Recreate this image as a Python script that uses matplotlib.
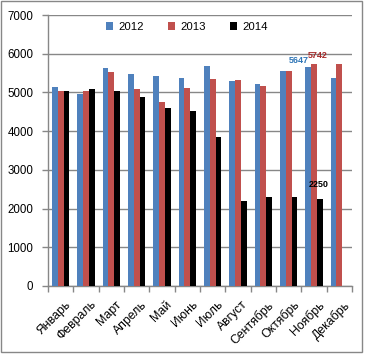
import numpy as np
import matplotlib
matplotlib.use('Agg')
import matplotlib.pyplot as plt
import matplotlib.transforms as mtransforms
from matplotlib.patches import Rectangle

plt.rcParams['font.family'] = ['Liberation Sans', 'DejaVu Sans']

months = ['Январь', 'Февраль', 'Март', 'Апрель', 'Май', 'Июнь',
          'Июль', 'Август', 'Сентябрь', 'Октябрь', 'Ноябрь', 'Декабрь']
years = ['2012', '2013', '2014']
v2012 = [5135, 4965, 5630, 5475, 5425, 5365, 5685, 5290, 5220, 5546, 5647, 5367]
v2013 = [5035, 5040, 5525, 5090, 4740, 5110, 5340, 5315, 5170, 5546, 5742, 5735]
v2014 = [5035, 5090, 5040, 4890, 4600, 4515, 3850, 2196, 2305, 2305, 2250, np.nan]
colors = ['#4F81BD', '#C0504D', '#000000']

W, H = 367, 359
fig = plt.figure(figsize=(W / 100, H / 100), dpi=100)
ax = fig.add_axes([48 / W, (H - 286) / H, (352 - 48) / W, (286 - 15) / H])

x = np.arange(len(months))
bw = 0.225
series = [v2012, v2013, v2014]
for k, vals in enumerate(series):
    ax.bar(x + (k - 1) * bw, vals, bw, color=colors[k], label=years[k], zorder=3)

ax.set_xlim(-0.5, len(months) - 0.5)
ax.set_ylim(0, 7000)
ax.set_yticks(range(0, 7001, 1000))
ax.yaxis.grid(True, color='#878787', linewidth=1, zorder=0)

gray = '#878787'
for s in ['top', 'right']:
    ax.spines[s].set_visible(False)
for s in ['left', 'bottom']:
    ax.spines[s].set_color(gray)
    ax.spines[s].set_linewidth(1)

ax.set_xticks(x)
ax.set_xticklabels(months, rotation=45, ha='right', rotation_mode='anchor', fontsize=8.8)
ax.set_xticks(np.arange(-0.5, len(months), 1), minor=True)
ax.tick_params(axis='x', which='major', length=0, pad=9)
ax.tick_params(axis='x', which='minor', length=4.5, color=gray, width=1)
ax.tick_params(axis='y', length=4.5, color=gray, width=1, pad=6, labelsize=8.3)
shift = mtransforms.ScaledTranslation(0.04, 0, fig.dpi_scale_trans)
for lbl in ax.get_xticklabels():
    lbl.set_transform(lbl.get_transform() + shift)

# data labels
ax.annotate('5647', (10 - bw, v2012[10]), xytext=(-7, 2), textcoords='offset points',
            ha='center', va='bottom', fontsize=6.5, fontweight='bold', color='#2E75B6')
ax.annotate('5742', (10, v2013[10]), xytext=(3, 3), textcoords='offset points',
            ha='center', va='bottom', fontsize=6.5, fontweight='bold', color='#A52A2A')
ax.annotate('2250', (10 + bw, v2014[10]), xytext=(-1, 7), textcoords='offset points',
            ha='center', va='bottom', fontsize=6.5, fontweight='bold', color='black')

fig.legend(loc='center', bbox_to_anchor=(187 / W, (H - 27) / H), ncol=3, frameon=False,
           fontsize=8.2, handlelength=0.6, handleheight=0.6, handletextpad=0.5,
           columnspacing=2.1)

fig.patches.append(Rectangle((1 / W, (H - 352) / H), 361 / W, 351 / H, transform=fig.transFigure,
                             fill=False, edgecolor=gray, linewidth=1))

fig.savefig('out.png', dpi=100)
